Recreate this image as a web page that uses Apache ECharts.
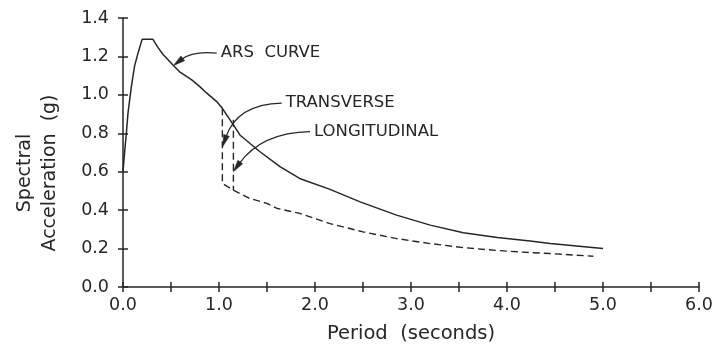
<!DOCTYPE html>
<html>
<head>
<meta charset="utf-8">
<script src="https://cdn.jsdelivr.net/npm/echarts@6/dist/echarts.min.js"></script>
<style>
  html, body { margin: 0; padding: 0; background: #fff; }
  #chart { width: 718px; height: 345px; }
</style>
</head>
<body>
<div id="chart"></div>
<script>
// Acceleration response spectrum (period in s, acceleration in g)
const arsCurve = [
  [0, 0.6], [0.02, 0.72], [0.035, 0.80], [0.052, 0.905], [0.087, 1.043],
  [0.12, 1.148], [0.156, 1.217], [0.2, 1.29], [0.31, 1.29], [0.36, 1.25],
  [0.417, 1.21], [0.455, 1.19], [0.52, 1.155], [0.59, 1.12], [0.716, 1.078],
  [0.80, 1.043], [0.87, 1.01], [0.976, 0.965], [1.035, 0.93], [1.115, 0.87],
  [1.22, 0.79], [1.427, 0.704], [1.635, 0.626], [1.84, 0.565], [2.156, 0.508],
  [2.47, 0.443], [2.85, 0.374], [3.2, 0.322], [3.545, 0.282], [3.9, 0.258],
  [4.24, 0.24], [4.45, 0.226], [5.0, 0.20]
];

// Transverse cut-off: drop at T = 1.035 s, then the reduced spectrum
const transverseCurve = [
  [1.035, 0.93], [1.035, 0.539], [1.15, 0.504], [1.32, 0.461], [1.5, 0.435],
  [1.6, 0.41], [1.84, 0.383], [2.156, 0.33], [2.5, 0.287], [2.85, 0.252],
  [3.2, 0.226], [3.545, 0.205], [3.9, 0.19], [4.24, 0.179], [4.45, 0.174],
  [4.9, 0.16]
];

// Longitudinal cut-off: drop at T = 1.15 s onto the reduced spectrum
const longitudinalCurve = [
  [1.15, 0.87], [1.15, 0.504]
];

// Callouts: label text, where the leader starts, where the arrow points
const calloutText = ['ARS  CURVE', 'TRANSVERSE', 'LONGITUDINAL'];
const calloutFrom = [[0.976, 1.2175], [1.653, 0.957], [1.948, 0.809]];
const calloutTo = [[0.524, 1.152], [1.038, 0.73], [1.149, 0.60]];
const calloutBend = [-0.2, -0.35, -0.25];

const xTicks = [0, 1, 2, 3, 4, 5, 6];
const yTicks = [0, 0.2, 0.4, 0.6, 0.8, 1.0, 1.2, 1.4];

const ink = '#262626';
const font = 'DejaVu Sans';

const chart = echarts.init(document.getElementById('chart'), null, { renderer: 'canvas' });

const markPointData = calloutText.map((t, i) => ({
  coord: calloutFrom[i], value: t
}));

const baseX = {
  type: 'value', min: 0, max: 6, interval: 0.5, position: 'bottom',
  splitLine: { show: false }
};
const baseY = {
  type: 'value', min: 0, max: 1.4, interval: 0.2, position: 'left',
  splitLine: { show: false }
};

chart.setOption({
  animation: false,
  backgroundColor: '#fff',
  grid: {
    left: 123, right: 19, top: 18, bottom: 58,
    containLabel: false, outerBoundsMode: 'none'
  },
  xAxis: [
    Object.assign({}, baseX, {
      name: 'Period  (seconds)', nameLocation: 'middle', nameGap: 37,
      nameTextStyle: { fontFamily: font, fontSize: 19.5, color: ink },
      axisLine: { lineStyle: { color: ink, width: 1.5 } },
      axisTick: { inside: false, length: 5, lineStyle: { color: ink, width: 1.5 } },
      axisLabel: {
        margin: 9, fontFamily: font, fontSize: 17.5, color: ink,
        formatter: v => (xTicks.indexOf(v) >= 0 ? v.toFixed(1) : '')
      }
    }),
    Object.assign({}, baseX, {
      axisLine: { show: false },
      axisTick: { inside: true, length: 5, lineStyle: { color: ink, width: 1.5 } },
      axisLabel: { show: false }
    })
  ],
  yAxis: [
    Object.assign({}, baseY, {
      axisLine: { lineStyle: { color: ink, width: 1.5 } },
      axisTick: { inside: false, length: 5, lineStyle: { color: ink, width: 1.5 } },
      axisLabel: {
        margin: 14, fontFamily: font, fontSize: 17.5, color: ink,
        formatter: v => (yTicks.some(t => Math.abs(t - v) < 1e-9) ? v.toFixed(1) : '')
      }
    }),
    Object.assign({}, baseY, {
      axisLine: { show: false },
      axisTick: { inside: true, length: 5, lineStyle: { color: ink, width: 1.5 } },
      axisLabel: { show: false }
    })
  ],
  series: [
    {
      name: 'ARS', type: 'line', data: arsCurve, showSymbol: false,
      lineStyle: { color: ink, width: 1.5 },
      markPoint: {
        silent: true, symbol: 'circle', symbolSize: 0,
        label: {
          show: true, position: 'right', distance: 4,
          fontFamily: font, fontSize: 16.5, color: ink,
          formatter: p => p.value
        },
        data: markPointData
      }
    },
    {
      name: 'Transverse', type: 'line', data: transverseCurve, showSymbol: false,
      lineStyle: { color: ink, width: 1.4, type: [7, 4] }
    },
    {
      name: 'Longitudinal', type: 'line', data: longitudinalCurve, showSymbol: false,
      lineStyle: { color: ink, width: 1.4, type: [7, 4] }
    }
  ]
});

// Curved leaders with filled arrowheads, placed through the axis scales
function buildCallouts() {
  const els = [];
  calloutText.forEach((t, i) => {
    const a = chart.convertToPixel({ seriesIndex: 0 }, calloutFrom[i]);
    const b = chart.convertToPixel({ seriesIndex: 0 }, calloutTo[i]);
    const c = calloutBend[i];
    const cpx = (a[0] + b[0]) / 2 - (a[1] - b[1]) * c;
    const cpy = (a[1] + b[1]) / 2 - (b[0] - a[0]) * c;
    // arrowhead along the tangent at the tip
    let dx = b[0] - cpx, dy = b[1] - cpy;
    const len = Math.hypot(dx, dy) || 1;
    dx /= len; dy /= len;
    const headLen = 12, headHalf = 3;
    const baseX0 = b[0] - dx * headLen, baseY0 = b[1] - dy * headLen;
    els.push({
      type: 'bezierCurve', silent: true,
      shape: { x1: a[0], y1: a[1], x2: baseX0 + dx * 2, y2: baseY0 + dy * 2, cpx1: cpx, cpy1: cpy },
      style: { stroke: ink, lineWidth: 1.2, fill: null }
    });
    els.push({
      type: 'polygon', silent: true,
      shape: { points: [
        [b[0], b[1]],
        [baseX0 - dy * headHalf, baseY0 + dx * headHalf],
        [baseX0 + dy * headHalf, baseY0 - dx * headHalf]
      ] },
      style: { fill: ink, stroke: ink, lineWidth: 0.5 }
    });
  });
  // two-line vertical axis title
  els.push({
    type: 'text', silent: true,
    x: 37.5, y: 173, rotation: Math.PI / 2,
    style: {
      text: 'Spectral\nAcceleration  (g)',
      fontFamily: font, fontSize: 19, fill: ink,
      align: 'center', verticalAlign: 'middle',
      textAlign: 'center', textVerticalAlign: 'middle',
      lineHeight: 24.5
    }
  });
  chart.setOption({ graphic: els });
}
buildCallouts();
</script>
</body>
</html>
